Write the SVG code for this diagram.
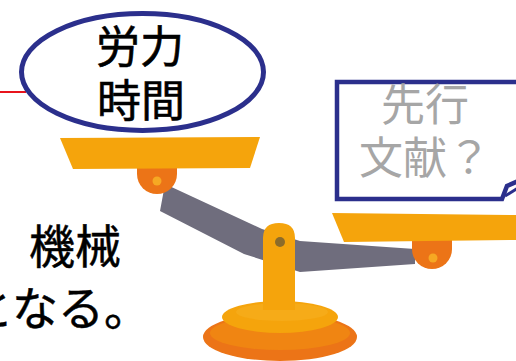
<svg xmlns="http://www.w3.org/2000/svg" width="516" height="361" viewBox="0 0 516 361">
  <style>
    .jp { font-family: "Noto Sans CJK JP", "Noto Sans", sans-serif; }
    .dark { fill: #000; stroke: #000; stroke-width: 0.6; font-size: 44px; }
    .grey { fill: #a6a6a6; font-size: 44px; }
    .body { fill: #000; stroke: #000; stroke-width: 0.5; font-size: 46px; }
    .outline { fill: #fff; stroke: #2b2f8c; stroke-width: 5; }
    .pan { fill: #f5a40c; }
    .hinge { fill: #ec7417; }
    .hinge-dot { fill: #f6a823; }
    .arm { fill: #6f6d7d; }
  </style>

  <rect width="516" height="361" fill="#fff"/>

  <!-- body text on the left, partly clipped by the edge -->
  <g id="body-text" class="jp">
    <text class="body" x="121" y="263" text-anchor="end">機械</text>
    <text class="body" x="150" y="325" text-anchor="end">となる。</text>
  </g>

  <!-- balance scale -->
  <g id="scale">
    <!-- beam -->
    <path class="arm" d="M165,184 L262,229 L300,241 L415,249 L415,264 L300,272 L244,254 L160,211 Z"/>
    <!-- base -->
    <ellipse cx="280" cy="337" rx="77" ry="24" fill="#ec7417"/>
    <ellipse cx="280" cy="333" rx="70" ry="17" fill="#f08512"/>
    <ellipse cx="280" cy="317" rx="58" ry="16" fill="#f5a40c"/>
    <ellipse cx="282" cy="312" rx="46" ry="9" fill="#f6ab18"/>
    <!-- post -->
    <path d="M263,310 V238 Q263,223 279,223 Q295,223 295,238 V310 Z" fill="#f5a40c"/>
    <circle cx="280" cy="242" r="5" fill="#8c6b2a"/>
    <!-- left pan -->
    <path class="hinge" d="M137,162 H177 V174 A20,20 0 0 1 137,174 Z"/>
    <circle class="hinge-dot" cx="157" cy="181" r="4.5"/>
    <path class="pan" d="M60,138 L260,137 L250,168 L73,169 Z"/>
    <!-- right pan -->
    <path class="hinge" d="M412,236 H452 V249 A20,20 0 0 1 412,249 Z"/>
    <circle class="hinge-dot" cx="433" cy="258" r="4.5"/>
    <path class="pan" d="M332,213 L516,215 L516,240 L344,242 Z"/>
  </g>

  <!-- leader line -->
  <g id="connectors">
    <line x1="0" y1="92" x2="26" y2="92" stroke="#e8141c" stroke-width="2"/>
  </g>

  <!-- oval callout -->
  <g id="labor-time" class="jp">
    <ellipse class="outline" cx="142.5" cy="72" rx="121" ry="58.5"/>
    <text class="dark" x="140" y="63" text-anchor="middle">労力</text>
    <text class="dark" x="141" y="117" text-anchor="middle">時間</text>
  </g>

  <!-- rectangular callout with tail at lower right -->
  <g id="prior-work" class="jp">
    <path d="M337,82 H518 V200 H502 Z" fill="#fff"/>
    <path d="M518,82 H337 V199 H502 L507,186 L518,181" fill="none" stroke="#2b2f8c" stroke-width="4.5" stroke-linejoin="miter"/>
    <path d="M505,196 L518,188" fill="none" stroke="#2b2f8c" stroke-width="3"/>
    <text class="grey" x="425" y="121" text-anchor="middle">先行</text>
    <text class="grey" x="425" y="174" text-anchor="middle">文献？</text>
  </g>
</svg>
